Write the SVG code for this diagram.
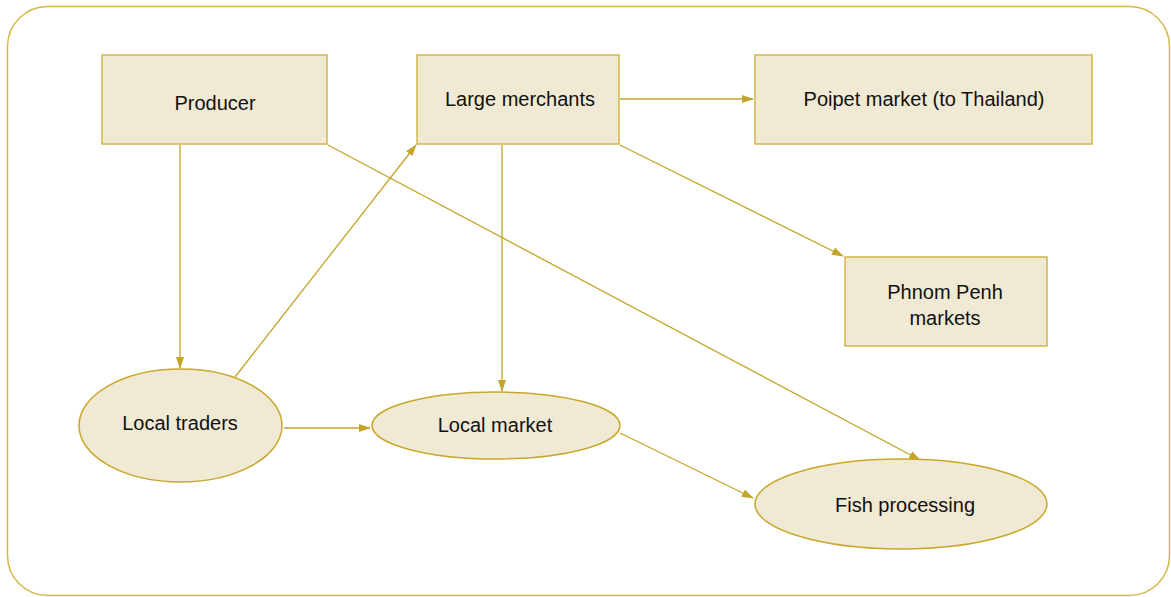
<svg xmlns="http://www.w3.org/2000/svg" width="1171" height="597" viewBox="0 0 1171 597">
<defs>
<marker id="ah" markerWidth="12" markerHeight="8" refX="11" refY="4" orient="auto" markerUnits="userSpaceOnUse">
<path d="M0,0 L12,4 L0,8 Z" fill="#c2a52a"/>
</marker>
<style>
.node{fill:#f0e9d4;stroke:#d1b64a;stroke-width:1.5}
.ell{fill:#f0e9d4;stroke:#c8a82a;stroke-width:1.5}
.lbl{font-family:"Liberation Sans",Arial,sans-serif;font-size:20px;fill:#111;text-anchor:middle}
.con{stroke:#c2a52a;stroke-width:1.3;fill:none;marker-end:url(#ah)}
</style>
</defs>
<rect x="7.5" y="6.5" width="1162" height="589" rx="40" fill="#fff" stroke="#d4b84a" stroke-width="1.5"/>
<g id="connectors">
<line class="con" x1="180" y1="145" x2="180" y2="368"/>
<line class="con" x1="235" y1="377" x2="416" y2="145"/>
<line class="con" x1="328" y1="145" x2="920" y2="460"/>
<line class="con" x1="502" y1="145" x2="502" y2="391"/>
<line class="con" x1="620" y1="99" x2="753" y2="99"/>
<line class="con" x1="620" y1="145" x2="843" y2="256"/>
<line class="con" x1="284" y1="428" x2="370" y2="428"/>
<line class="con" x1="620" y1="433" x2="753" y2="498"/>
</g>
<g id="producer">
<rect class="node" x="102" y="55" width="225" height="89"/>
<text class="lbl" x="215" y="110">Producer</text>
</g>
<g id="large-merchants">
<rect class="node" x="417" y="55" width="202" height="89"/>
<text class="lbl" x="520" y="106">Large merchants</text>
</g>
<g id="poipet">
<rect class="node" x="755" y="55" width="337" height="89"/>
<text class="lbl" x="924" y="106">Poipet market (to Thailand)</text>
</g>
<g id="phnom-penh">
<rect class="node" x="845" y="257" width="202" height="89"/>
<text class="lbl" x="945" y="299">Phnom Penh</text>
<text class="lbl" x="945" y="325">markets</text>
</g>
<g id="local-traders">
<ellipse class="ell" cx="180.5" cy="425.5" rx="101.5" ry="56.5"/>
<text class="lbl" x="180" y="430">Local traders</text>
</g>
<g id="local-market">
<ellipse class="ell" cx="496" cy="425.5" rx="124" ry="33.5"/>
<text class="lbl" x="495" y="432">Local market</text>
</g>
<g id="fish-processing">
<ellipse class="ell" cx="901" cy="504" rx="146" ry="45"/>
<text class="lbl" x="905" y="512">Fish processing</text>
</g>
</svg>
